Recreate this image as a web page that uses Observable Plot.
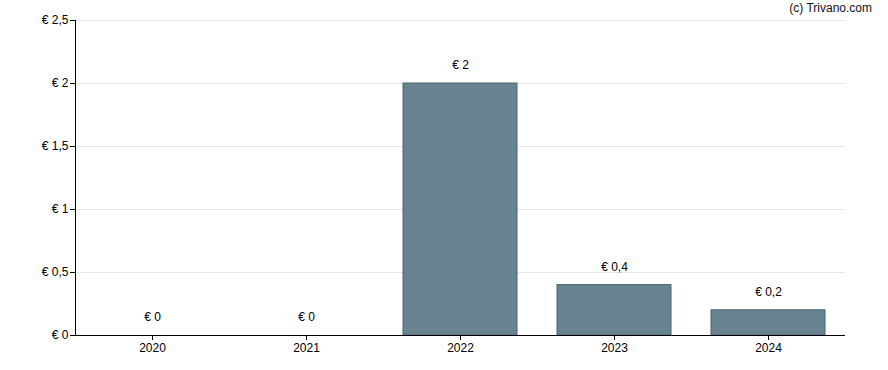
<!DOCTYPE html>
<html>
<head>
<meta charset="utf-8">
<script src="https://cdn.jsdelivr.net/npm/d3@7"></script>
<script src="https://cdn.jsdelivr.net/npm/@observablehq/plot@0.6"></script>
<style>
  html, body { margin: 0; padding: 0; background: #fff; }
  #chart { position: relative; width: 888px; height: 370px; }
  #credit { position: absolute; right: 16px; top: 1px; font: 12px Arial, "Liberation Sans", sans-serif; color: #111; }
</style>
</head>
<body>
<div id="chart"><div id="credit">(c) Trivano.com</div></div>
<script>
const years = ["2020", "2021", "2022", "2023", "2024"];
const values = [0, 0, 2, 0.4, 0.2];
const yTicks = [0, 0.5, 1, 1.5, 2, 2.5];

const data = years.map((y, i) => ({year: y, value: values[i]}));
const fmt = v => "€ " + String(v).replace(".", ",");

const plot = Plot.plot({
  width: 888,
  height: 370,
  marginLeft: 75,
  marginRight: 43,
  marginTop: 20,
  marginBottom: 35,
  style: {fontFamily: "Arial, 'Liberation Sans', sans-serif", fontSize: "12px", color: "#000", background: "#fff"},
  x: {domain: years, paddingInner: 0.26, paddingOuter: 0.13, label: null},
  y: {domain: [0, 2.5], label: null},
  marks: [
    Plot.gridY(yTicks, {stroke: "#e6e6e6", strokeOpacity: 1}),
    Plot.barY(data, {x: "year", y: "value", fill: "#67838f", stroke: "#4a6373", strokeWidth: 1}),
    Plot.text(data, {x: "year", y: "value", text: d => fmt(d.value), dy: -18, fill: "#000", fontSize: 12}),
    Plot.axisY(yTicks, {tickSize: 5, tickPadding: 2, tickFormat: fmt, stroke: "#000", fill: "#000", label: null}),
    Plot.axisX({tickSize: 5, tickPadding: 3, stroke: "#000", fill: "#000", label: null}),
    Plot.frame({anchor: "left", stroke: "#000"}),
    Plot.ruleY([0], {stroke: "#000"})
  ]
});
document.getElementById("chart").appendChild(plot);
</script>
</body>
</html>
